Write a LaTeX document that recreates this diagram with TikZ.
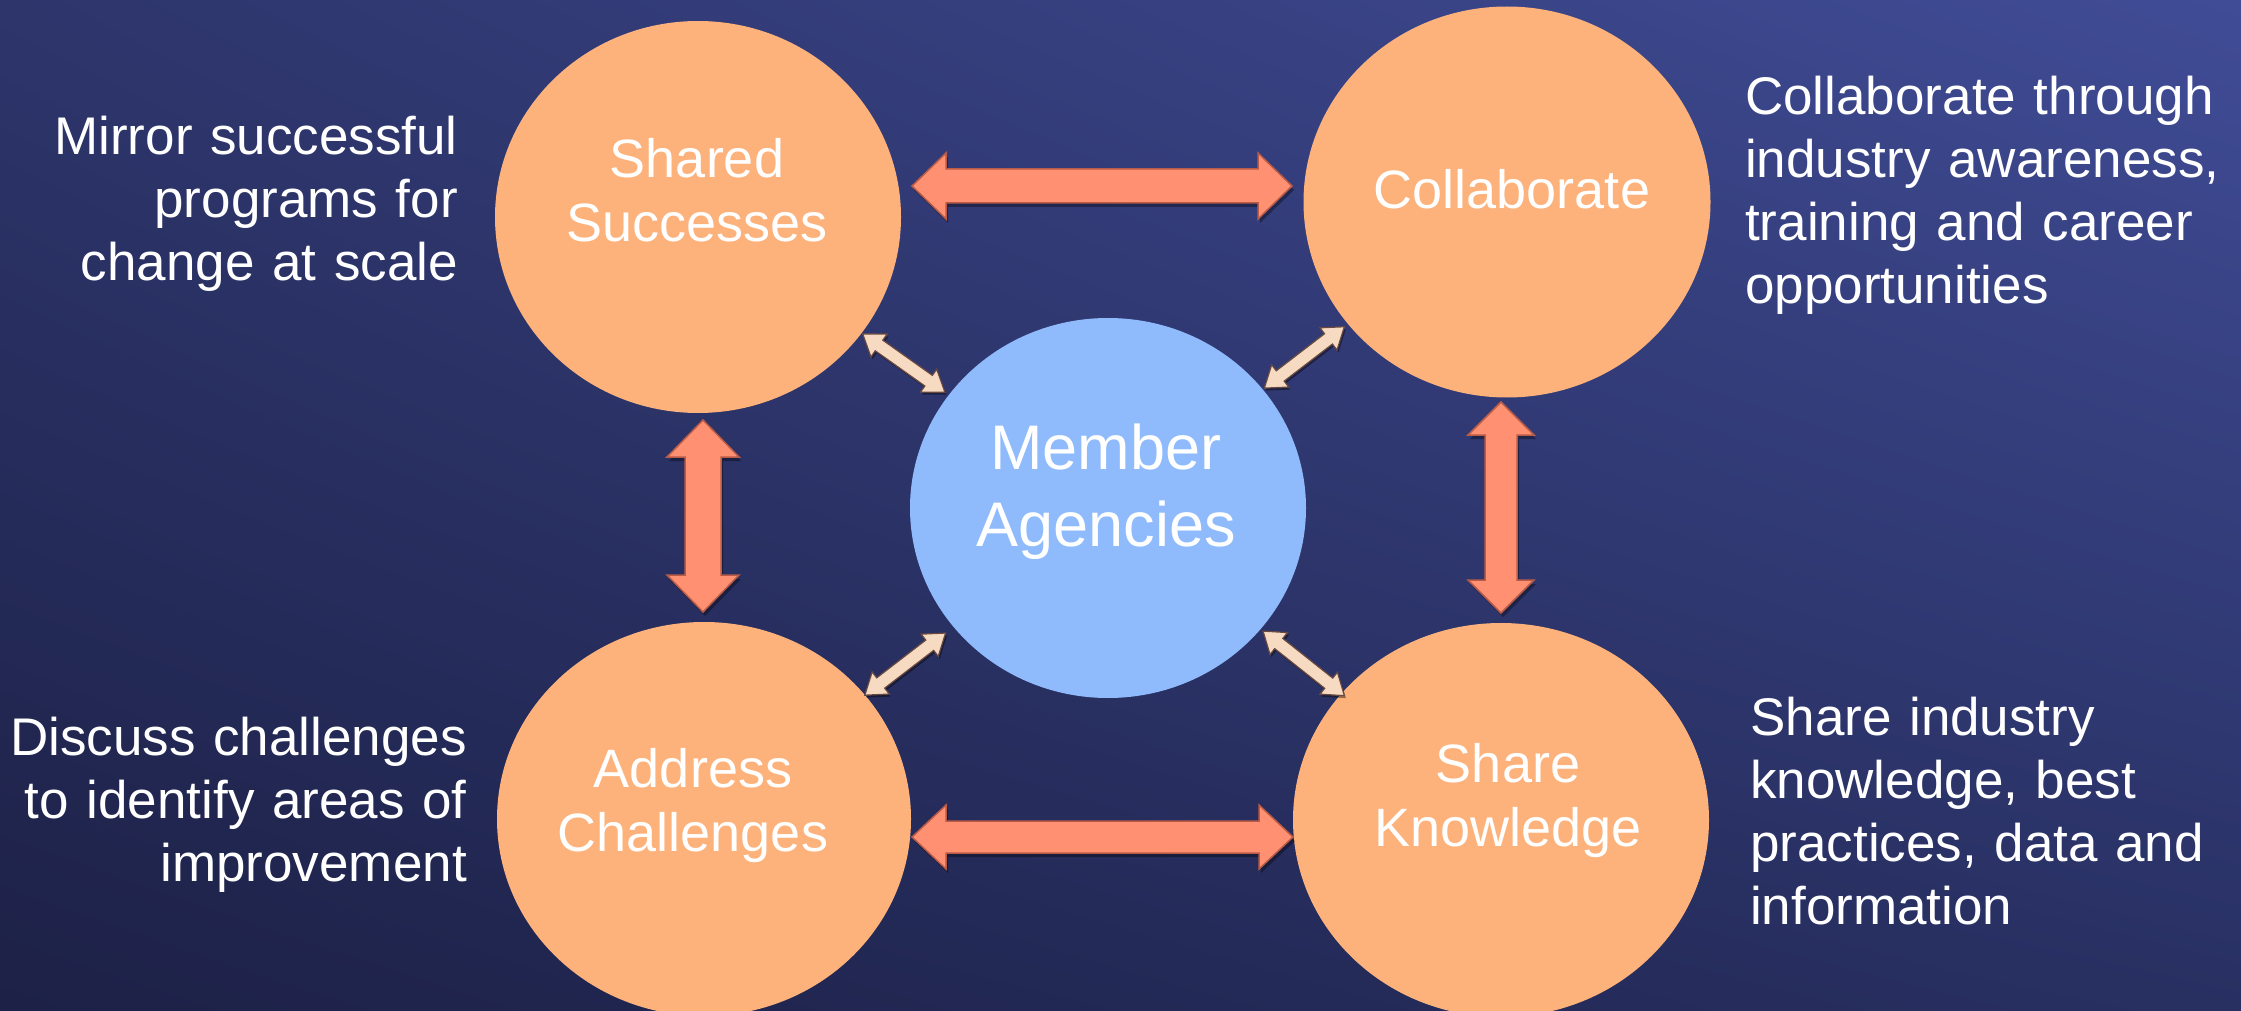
\documentclass[tikz,border=0pt]{standalone}
\usepackage{fontspec}
\setmainfont{Liberation Sans}
\usetikzlibrary{calc,shapes.geometric,shadings}
\definecolor{orbcol}{HTML}{FDB27C}
\definecolor{membcol}{HTML}{8FBBFC}
\definecolor{bigfill}{HTML}{FF9172}
\definecolor{bigedge}{HTML}{B95B46}
\definecolor{smfill}{HTML}{F6DBC2}
\definecolor{smedge}{HTML}{6A4A40}
\definecolor{bgUL}{HTML}{2D356B}
\definecolor{bgUR}{HTML}{404C96}
\definecolor{bgLL}{HTML}{1D2147}
\definecolor{bgLR}{HTML}{283062}
\tikzset{
  barrow/.style n args={3}{to path={
    -- ($($(\tikztostart)!#1!(\tikztotarget)$)!#2!90:(\tikztotarget)$)
    -- ($($(\tikztostart)!#1!(\tikztotarget)$)!#3!90:(\tikztotarget)$)
    -- ($($(\tikztotarget)!#1!(\tikztostart)$)!#3!-90:(\tikztostart)$)
    -- ($($(\tikztotarget)!#1!(\tikztostart)$)!#2!-90:(\tikztostart)$)
    -- (\tikztotarget)
    -- ($($(\tikztotarget)!#1!(\tikztostart)$)!#2!90:(\tikztostart)$)
    -- ($($(\tikztotarget)!#1!(\tikztostart)$)!#3!90:(\tikztostart)$)
    -- ($($(\tikztostart)!#1!(\tikztotarget)$)!#3!-90:(\tikztotarget)$)
    -- ($($(\tikztostart)!#1!(\tikztotarget)$)!#2!-90:(\tikztotarget)$)
    -- cycle}},
  bigarrow/.style={fill=bigfill, draw=bigedge, line width=1.5pt, line join=miter,
    preaction={fill=black, opacity=0.35, transform canvas={shift={(2pt,-4pt)}}}},
  smarrow/.style={fill=smfill, draw=smedge, line width=1.2pt, line join=miter,
    preaction={fill=black, opacity=0.4, transform canvas={shift={(1.5pt,-2.5pt)}}}},
  orbnode/.style={ellipse, fill=orbcol, inner sep=0pt},
  membnode/.style={ellipse, fill=membcol, inner sep=0pt},
  sidetext/.style={text=white, font=\fontsize{53}{63}\selectfont, inner sep=0pt, text width=480pt},
  circtext/.style={text=white, font=\fontsize{54}{64}\selectfont, inner sep=0pt, text width=400pt, align=center, anchor=base},
  membtext/.style={text=white, font=\fontsize{63}{77}\selectfont, inner sep=0pt, text width=400pt, align=center, anchor=base},
}
\begin{document}
\begin{tikzpicture}[x=1pt,y=-1pt]
\useasboundingbox (0,0) rectangle (2241,1011);
\shade[upper left=bgUL, upper right=bgUR, lower left=bgLL, lower right=bgLR] (0,0) rectangle (2241,1011);

% circles
\node[orbnode, minimum width=406pt, minimum height=392pt] (ss) at (698,217) {};
\node[orbnode, minimum width=407pt, minimum height=391pt] (col) at (1507,202) {};
\node[orbnode, minimum width=414pt, minimum height=394pt] (ac) at (704,819) {};
\node[orbnode, minimum width=416pt, minimum height=394pt] (sk) at (1501,820) {};
\node[membnode, minimum width=396pt, minimum height=380pt] (mem) at (1108,508) {};

% circle texts
\node[circtext] (ssT) at (697,178) {Shared\\Successes};
\node[circtext] (colT) at (1512,209) {Collaborate};
\node[circtext] (acT) at (693,787) {Address\\Challenges};
\node[circtext] (skT) at (1508,782) {Share\\Knowledge};
\node[membtext] (memT) at (1106,469) {Member\\Agencies};

% side texts
\node[sidetext, align=right, anchor=base east] (mirD) at (458,155) {Mirror successful\\programs for\\change at scale};
\node[sidetext, align=left, anchor=base west] (colD) at (1745,115) {Collaborate through\\industry awareness,\\training and career\\opportunities};
\node[sidetext, align=right, anchor=base east] (disD) at (467,755) {Discuss challenges\\to identify areas of\\improvement};
\node[sidetext, align=left, anchor=base west] (shD) at (1750,735) {Share industry\\knowledge, best\\practices, data and\\information};

% big arrow ends
\coordinate (t1) at (912,186);
\coordinate (t2) at (1292,186);
\coordinate (b1) at (912,837);
\coordinate (b2) at (1293,837);
\coordinate (l1) at (703,420);
\coordinate (l2) at (703,612);
\coordinate (r1) at (1501,402);
\coordinate (r2) at (1501,613);

\draw[bigarrow] (t1) to[barrow={34pt}{33pt}{17pt}] (t2);
\draw[bigarrow] (b1) to[barrow={34pt}{32pt}{16pt}] (b2);
\draw[bigarrow] (l1) to[barrow={37pt}{36pt}{18pt}] (l2);
\draw[bigarrow] (r1) to[barrow={33pt}{33pt}{16pt}] (r2);

% small arrow ends
\coordinate (ul1) at ($(ss)!202pt!(mem)$);
\coordinate (ul2) at ($(mem)!200pt!(ss)$);
\coordinate (ur1) at ($(col)!205pt!(mem)$);
\coordinate (ur2) at ($(mem)!197pt!(col)$);
\coordinate (ll1) at ($(ac)!203pt!(mem)$);
\coordinate (ll2) at ($(mem)!205pt!(ac)$);
\coordinate (lr1) at ($(sk)!200pt!(mem)$);
\coordinate (lr2) at ($(mem)!198pt!(sk)$);

\draw[smarrow] (ul1) to[barrow={20pt}{14pt}{6.5pt}] (ul2);
\draw[smarrow] (ur1) to[barrow={20pt}{14pt}{6.5pt}] (ur2);
\draw[smarrow] (ll1) to[barrow={20pt}{14pt}{6.5pt}] (ll2);
\draw[smarrow] (lr1) to[barrow={20pt}{14pt}{6.5pt}] (lr2);
\end{tikzpicture}
\end{document}
